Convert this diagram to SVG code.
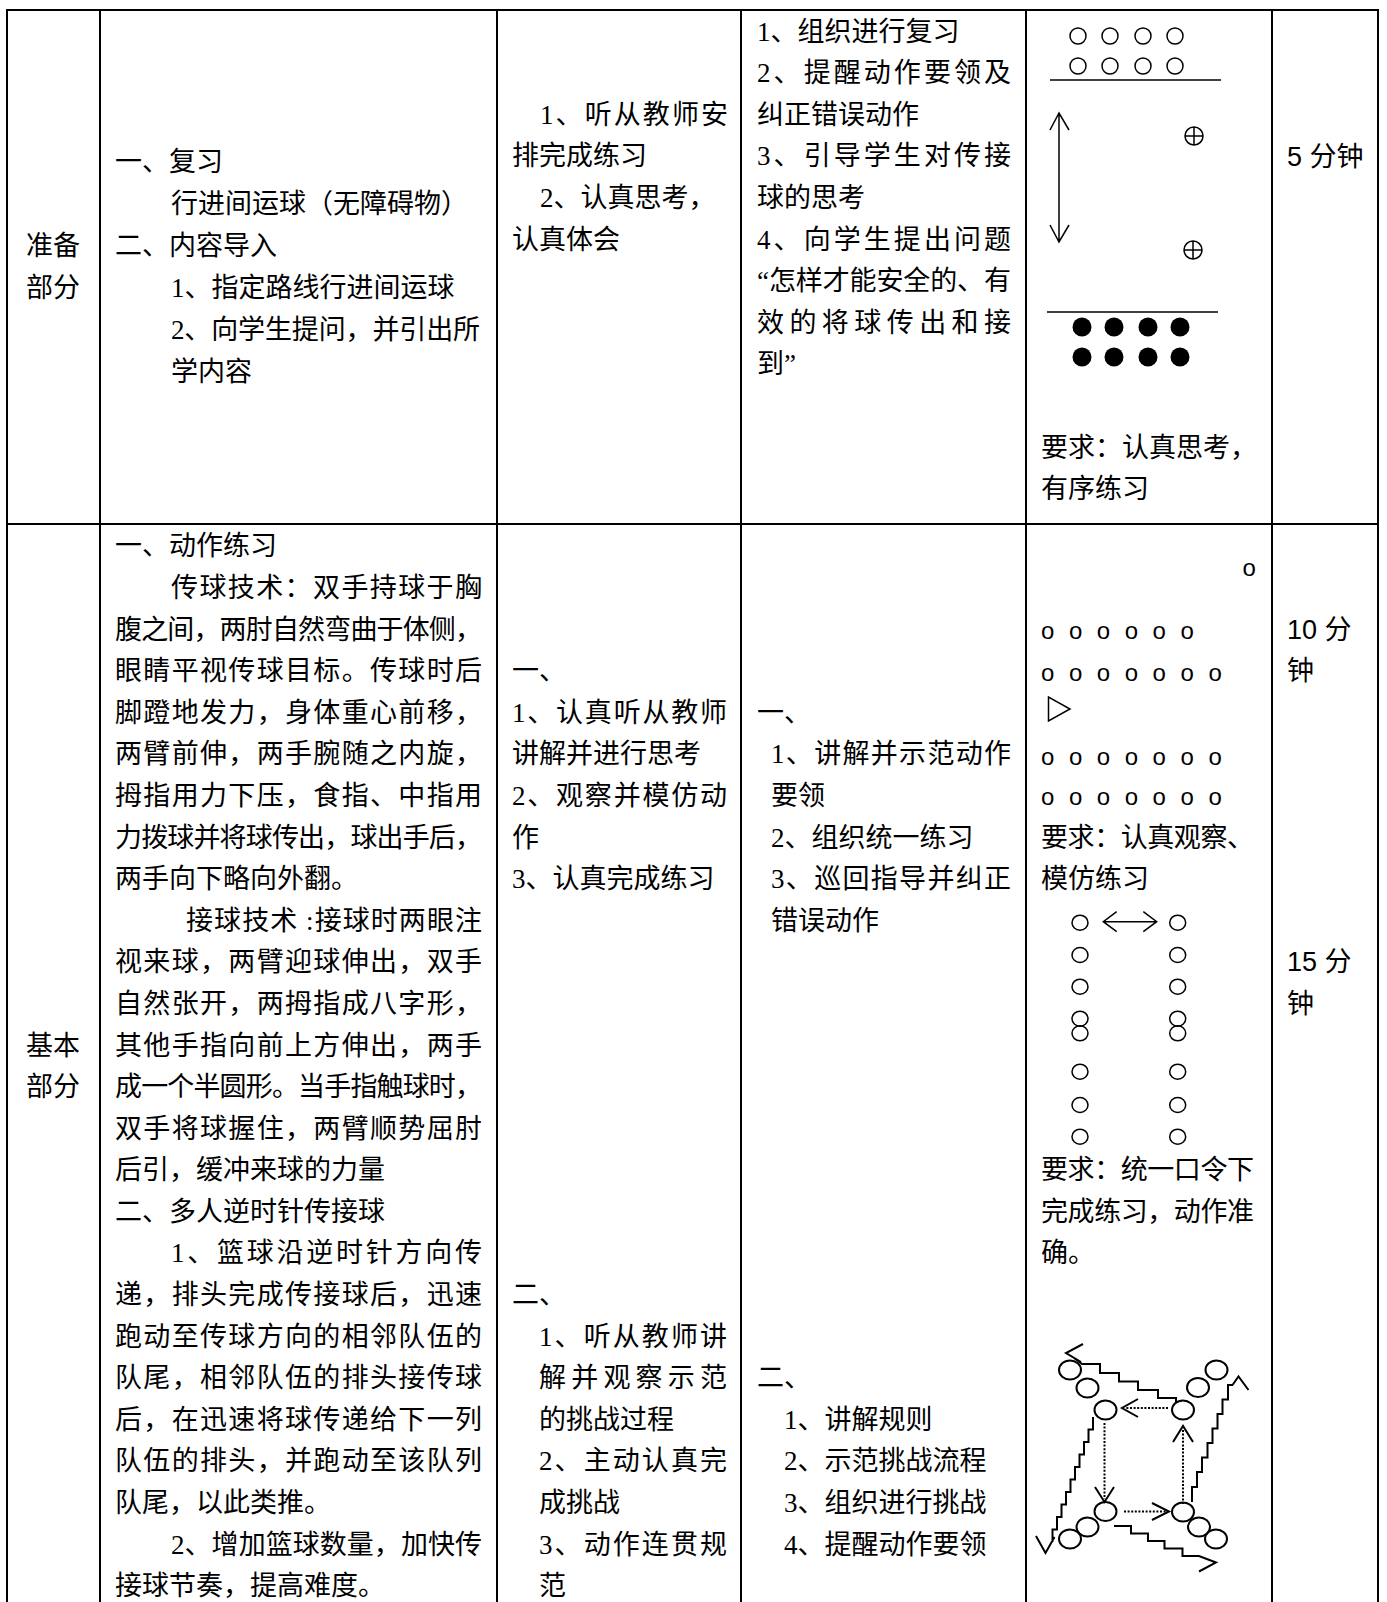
<svg xmlns="http://www.w3.org/2000/svg" width="1387" height="1602" viewBox="0 0 1387 1602">
<style>
.t{font-family:"Liberation Serif","Noto Sans CJK SC",serif;font-size:27px;fill:#000}
.s{font-family:"Liberation Sans","Noto Sans CJK SC",sans-serif;font-size:27px;fill:#000}
.o{font-family:"Liberation Sans",sans-serif;font-size:24px;fill:#000}
.c{text-anchor:middle}
.grid line{stroke:#000;stroke-width:2}
.ln{stroke:#000;stroke-width:1.5;fill:none}
.bd{stroke:#000;stroke-width:2;fill:none}
.dot{stroke:#000;stroke-width:2;fill:none;stroke-dasharray:2 1.6}
.oc{stroke:#000;stroke-width:1.5;fill:none}
</style>
<rect width="1387" height="1602" fill="#fff"/>
<g id="table" class="grid">
<line x1="6" y1="10" x2="1379" y2="10"/>
<line x1="6" y1="524" x2="1379" y2="524"/>
<line x1="7" y1="10" x2="7" y2="1602"/>
<line x1="100" y1="10" x2="100" y2="1602"/>
<line x1="497" y1="10" x2="497" y2="1602"/>
<line x1="741" y1="10" x2="741" y2="1602"/>
<line x1="1026" y1="10" x2="1026" y2="1602"/>
<line x1="1272" y1="10" x2="1272" y2="1602"/>
<line x1="1378" y1="10" x2="1378" y2="1602"/>
</g>

<g id="prep-label">
<text class="t c" x="53" y="255.2">准备</text>
<text class="t c" x="53" y="297.1">部分</text>
</g>
<g id="prep-content">
<text class="t" x="115" y="171.4">一、复习</text>
<text class="t" x="171" y="213.3">行进间运球（无障碍物）</text>
<text class="t" x="115" y="255.2">二、内容导入</text>
<text class="t" x="171" y="297.1">1、指定路线行进间运球</text>
<text class="t" x="171" y="339" textLength="309" lengthAdjust="spacing">2、向学生提问，并引出所</text>
<text class="t" x="171" y="380.9">学内容</text>
</g>
<g id="prep-student">
<text class="t" x="540" y="123.8" textLength="188" lengthAdjust="spacing">1、听从教师安</text>
<text class="t" x="512" y="165.4">排完成练习</text>
<text class="t" x="540" y="207">2、认真思考，</text>
<text class="t" x="512" y="248.6">认真体会</text>
</g>
<g id="prep-teacher">
<text class="t" x="757" y="40.6">1、组织进行复习</text>
<text class="t" x="757" y="82.2" textLength="254" lengthAdjust="spacing">2、提醒动作要领及</text>
<text class="t" x="757" y="123.8">纠正错误动作</text>
<text class="t" x="757" y="165.4" textLength="254" lengthAdjust="spacing">3、引导学生对传接</text>
<text class="t" x="757" y="207">球的思考</text>
<text class="t" x="757" y="248.6" textLength="254" lengthAdjust="spacing">4、向学生提出问题</text>
<text class="t" x="757" y="290.2" textLength="254" lengthAdjust="spacing">“怎样才能安全的、有</text>
<text class="t" x="757" y="331.8" textLength="254" lengthAdjust="spacing">效的将球传出和接</text>
<text class="t" x="757" y="373.4">到”</text>
</g>
<g id="prep-diagram">
<circle class="oc" cx="1078" cy="36" r="8"/>
<circle class="oc" cx="1110" cy="36" r="8"/>
<circle class="oc" cx="1143" cy="36" r="8"/>
<circle class="oc" cx="1175" cy="36" r="8"/>
<circle class="oc" cx="1078" cy="66" r="8"/>
<circle class="oc" cx="1110" cy="66" r="8"/>
<circle class="oc" cx="1143" cy="66" r="8"/>
<circle class="oc" cx="1175" cy="66" r="8"/>
<line class="ln" x1="1050" y1="80" x2="1221" y2="80"/>
<line class="ln" x1="1047" y1="312" x2="1218" y2="312"/>
<g class="ln">
<circle cx="1194" cy="136" r="9"/><path d="M1185,136H1203M1194,127V145"/>
<circle cx="1193" cy="250" r="9"/><path d="M1184,250H1202M1193,241V259"/>
</g>
<circle cx="1082" cy="327" r="9.5"/>
<circle cx="1114" cy="327" r="9.5"/>
<circle cx="1148" cy="327" r="9.5"/>
<circle cx="1180" cy="327" r="9.5"/>
<circle cx="1082" cy="357" r="9.5"/>
<circle cx="1114" cy="357" r="9.5"/>
<circle cx="1148" cy="357" r="9.5"/>
<circle cx="1180" cy="357" r="9.5"/>
<text class="t" x="1041" y="456.6">要求：认真思考，</text>
<text class="t" x="1041" y="498.2">有序练习</text>
</g>
<g id="prep-time">
<text class="s" x="1287" y="166">5 分钟</text>
</g>

<g id="basic-label">
<text class="t c" x="53" y="1054.5">基本</text>
<text class="t c" x="53" y="1096.1">部分</text>
</g>
<g id="basic-content">
<text class="t" x="115" y="555.4">一、动作练习</text>
<text class="t" x="171" y="597" textLength="311" lengthAdjust="spacing">传球技术：双手持球于胸</text>
<text class="t" x="115" y="638.6" textLength="367" lengthAdjust="spacing">腹之间，两肘自然弯曲于体侧，</text>
<text class="t" x="115" y="680.2" textLength="367" lengthAdjust="spacing">眼睛平视传球目标。传球时后</text>
<text class="t" x="115" y="721.8" textLength="367" lengthAdjust="spacing">脚蹬地发力，身体重心前移，</text>
<text class="t" x="115" y="763.4" textLength="367" lengthAdjust="spacing">两臂前伸，两手腕随之内旋，</text>
<text class="t" x="115" y="804.9" textLength="367" lengthAdjust="spacing">拇指用力下压，食指、中指用</text>
<text class="t" x="115" y="846.5" textLength="367" lengthAdjust="spacing">力拨球并将球传出，球出手后，</text>
<text class="t" x="115" y="888.1">两手向下略向外翻。</text>
<text class="t" x="186" y="929.7" textLength="296" lengthAdjust="spacing">接球技术 :接球时两眼注</text>
<text class="t" x="115" y="971.3" textLength="367" lengthAdjust="spacing">视来球，两臂迎球伸出，双手</text>
<text class="t" x="115" y="1012.9" textLength="367" lengthAdjust="spacing">自然张开，两拇指成八字形，</text>
<text class="t" x="115" y="1054.5" textLength="367" lengthAdjust="spacing">其他手指向前上方伸出，两手</text>
<text class="t" x="115" y="1096.1" textLength="367" lengthAdjust="spacing">成一个半圆形。当手指触球时，</text>
<text class="t" x="115" y="1137.7" textLength="367" lengthAdjust="spacing">双手将球握住，两臂顺势屈肘</text>
<text class="t" x="115" y="1179.3">后引，缓冲来球的力量</text>
<text class="t" x="115" y="1220.8">二、多人逆时针传接球</text>
<text class="t" x="171" y="1262.4" textLength="311" lengthAdjust="spacing">1、篮球沿逆时针方向传</text>
<text class="t" x="115" y="1304" textLength="367" lengthAdjust="spacing">递，排头完成传接球后，迅速</text>
<text class="t" x="115" y="1345.6" textLength="367" lengthAdjust="spacing">跑动至传球方向的相邻队伍的</text>
<text class="t" x="115" y="1387.2" textLength="367" lengthAdjust="spacing">队尾，相邻队伍的排头接传球</text>
<text class="t" x="115" y="1428.8" textLength="367" lengthAdjust="spacing">后，在迅速将球传递给下一列</text>
<text class="t" x="115" y="1470.4" textLength="367" lengthAdjust="spacing">队伍的排头，并跑动至该队列</text>
<text class="t" x="115" y="1512">队尾，以此类推。</text>
<text class="t" x="171" y="1553.6" textLength="311" lengthAdjust="spacing">2、增加篮球数量，加快传</text>
<text class="t" x="115" y="1595.2">接球节奏，提高难度。</text>
</g>
<g id="basic-student">
<text class="t" x="512" y="680.2">一、</text>
<text class="t" x="512" y="721.8" textLength="215" lengthAdjust="spacing">1、认真听从教师</text>
<text class="t" x="512" y="763.4">讲解并进行思考</text>
<text class="t" x="512" y="804.9" textLength="215" lengthAdjust="spacing">2、观察并模仿动</text>
<text class="t" x="512" y="846.5">作</text>
<text class="t" x="512" y="888.1">3、认真完成练习</text>
<text class="t" x="512" y="1304">二、</text>
<text class="t" x="539" y="1345.6" textLength="188" lengthAdjust="spacing">1、听从教师讲</text>
<text class="t" x="539" y="1387.2" textLength="188" lengthAdjust="spacing">解并观察示范</text>
<text class="t" x="539" y="1428.8">的挑战过程</text>
<text class="t" x="539" y="1470.4" textLength="188" lengthAdjust="spacing">2、主动认真完</text>
<text class="t" x="539" y="1512">成挑战</text>
<text class="t" x="539" y="1553.6" textLength="188" lengthAdjust="spacing">3、动作连贯规</text>
<text class="t" x="539" y="1595.2">范</text>
</g>
<g id="basic-teacher">
<text class="t" x="757" y="721.8">一、</text>
<text class="t" x="771" y="763.4" textLength="240" lengthAdjust="spacing">1、讲解并示范动作</text>
<text class="t" x="771" y="804.9">要领</text>
<text class="t" x="771" y="846.5">2、组织统一练习</text>
<text class="t" x="771" y="888.1" textLength="240" lengthAdjust="spacing">3、巡回指导并纠正</text>
<text class="t" x="771" y="929.7">错误动作</text>
<text class="t" x="757" y="1387.2">二、</text>
<text class="t" x="784" y="1428.8">1、讲解规则</text>
<text class="t" x="784" y="1470.4">2、示范挑战流程</text>
<text class="t" x="784" y="1512">3、组织进行挑战</text>
<text class="t" x="784" y="1553.6">4、提醒动作要领</text>
</g>
<g id="formation-rows">
<text class="o" x="1242.5" y="575.5">o</text>
<text class="o" xml:space="preserve" y="638.5" x="1041 1054.9 1068.9 1082.8 1096.8 1110.7 1124.7 1138.6 1152.6 1166.5 1180.5">o o o o o o</text>
<text class="o" xml:space="preserve" y="680.5" x="1041 1054.9 1068.9 1082.8 1096.8 1110.7 1124.7 1138.6 1152.6 1166.5 1180.5 1194.4 1208.4">o o o o o o o</text>
<polygon class="oc" points="1048.5,697 1048.5,721 1070,709"/>
<text class="o" xml:space="preserve" y="764.5" x="1041 1054.9 1068.9 1082.8 1096.8 1110.7 1124.7 1138.6 1152.6 1166.5 1180.5 1194.4 1208.4">o o o o o o o</text>
<text class="o" xml:space="preserve" y="804.5" x="1041 1054.9 1068.9 1082.8 1096.8 1110.7 1124.7 1138.6 1152.6 1166.5 1180.5 1194.4 1208.4">o o o o o o o</text>
<text class="t" x="1041" y="846.5" textLength="213" lengthAdjust="spacing">要求：认真观察、</text>
<text class="t" x="1041" y="888.1">模仿练习</text>
</g>
<g id="formation-columns">
<ellipse class="oc" cx="1080" cy="922.7" rx="8" ry="7.5"/>
<ellipse class="oc" cx="1080" cy="955" rx="8" ry="7.5"/>
<ellipse class="oc" cx="1080" cy="986.7" rx="8" ry="7.5"/>
<ellipse class="oc" cx="1080" cy="1018.7" rx="8" ry="7.5"/>
<ellipse class="oc" cx="1080" cy="1033.3" rx="8" ry="7.5"/>
<ellipse class="oc" cx="1080" cy="1071.7" rx="8" ry="7.5"/>
<ellipse class="oc" cx="1080" cy="1105" rx="8" ry="7.5"/>
<ellipse class="oc" cx="1080" cy="1136.7" rx="8" ry="7.5"/>
<ellipse class="oc" cx="1177.7" cy="922.7" rx="8" ry="7.5"/>
<ellipse class="oc" cx="1177.7" cy="955" rx="8" ry="7.5"/>
<ellipse class="oc" cx="1177.7" cy="986.7" rx="8" ry="7.5"/>
<ellipse class="oc" cx="1177.7" cy="1018.7" rx="8" ry="7.5"/>
<ellipse class="oc" cx="1177.7" cy="1033.3" rx="8" ry="7.5"/>
<ellipse class="oc" cx="1177.7" cy="1071.7" rx="8" ry="7.5"/>
<ellipse class="oc" cx="1177.7" cy="1105" rx="8" ry="7.5"/>
<ellipse class="oc" cx="1177.7" cy="1136.7" rx="8" ry="7.5"/>
<text class="t" x="1041" y="1179.3" textLength="213" lengthAdjust="spacing">要求：统一口令下</text>
<text class="t" x="1041" y="1220.8" textLength="213" lengthAdjust="spacing">完成练习，动作准</text>
<text class="t" x="1041" y="1262.4">确。</text>
</g>
<g id="relay-players" class="bd">
<ellipse cx="1070" cy="1370" rx="11" ry="9.5"/>
<ellipse cx="1087.5" cy="1388" rx="11" ry="9.5"/>
<ellipse cx="1105.5" cy="1410" rx="11" ry="9.5"/>
<ellipse cx="1183" cy="1410" rx="11" ry="9.5"/>
<ellipse cx="1198" cy="1387.5" rx="11" ry="9.5"/>
<ellipse cx="1216.5" cy="1370" rx="11" ry="9.5"/>
<ellipse cx="1105.5" cy="1511.5" rx="11" ry="9.5"/>
<ellipse cx="1087.5" cy="1527" rx="11" ry="9.5"/>
<ellipse cx="1070" cy="1539" rx="11" ry="9.5"/>
<ellipse cx="1183" cy="1512" rx="11" ry="9.5"/>
<ellipse cx="1199" cy="1527" rx="11" ry="9.5"/>
<ellipse cx="1216" cy="1539" rx="11" ry="9.5"/>
</g>
<g id="basic-time">
<text class="s" x="1287" y="638.6">10 分</text>
<text class="s" x="1287" y="680.2">钟</text>
<text class="s" x="1287" y="971.3">15 分</text>
<text class="s" x="1287" y="1012.9">钟</text>
</g>

<g id="connectors">
<path class="ln" d="M1059,113V242M1050,130L1059,113L1069,130M1050,225L1059,242L1069,225"/>
<path class="ln" d="M1103.3,921.7H1156.7M1116.7,911.7L1103.3,921.7L1116.7,931.7M1143.3,911.7L1156.7,921.7L1143.3,931.7"/>
<path class="dot" d="M1168,1408H1125"/>
<path class="bd" d="M1138,1399L1122,1408L1138,1417"/>
<path class="dot" d="M1104.5,1423V1499"/>
<path class="bd" d="M1095,1487L1104.5,1502L1114,1487"/>
<path class="dot" d="M1124,1511.5H1167"/>
<path class="bd" d="M1152,1503L1169,1511.5L1152,1520"/>
<path class="dot" d="M1183,1504V1429"/>
<path class="bd" d="M1173,1442L1183,1426L1193,1442"/>
<path class="bd" d="M1083,1344L1066,1353L1081,1362M1074,1358L1082,1364H1100V1373H1119V1381.5H1138V1390H1158V1398H1176V1402"/>
<path class="bd" d="M1192,1502V1487H1197V1472H1202V1457.5H1207.5V1443H1212.5V1428.5H1217.5V1414H1222.5V1399.5H1228V1385H1233M1232.5,1385L1238.5,1376.5L1248.5,1390"/>
<path class="bd" d="M1093,1417V1429.5H1088.5V1442H1084V1454.5H1079.5V1467H1075V1479.5H1070.5V1492H1066V1504.5H1061.5V1517H1057V1529.5H1052.5V1542M1036,1536L1045.5,1553L1054.5,1537"/>
<path class="bd" d="M1114,1526H1131V1533.5H1148V1541H1164.5V1548.5H1182.5V1556H1199L1216,1562.5L1199,1571.5"/>
</g>
</svg>
